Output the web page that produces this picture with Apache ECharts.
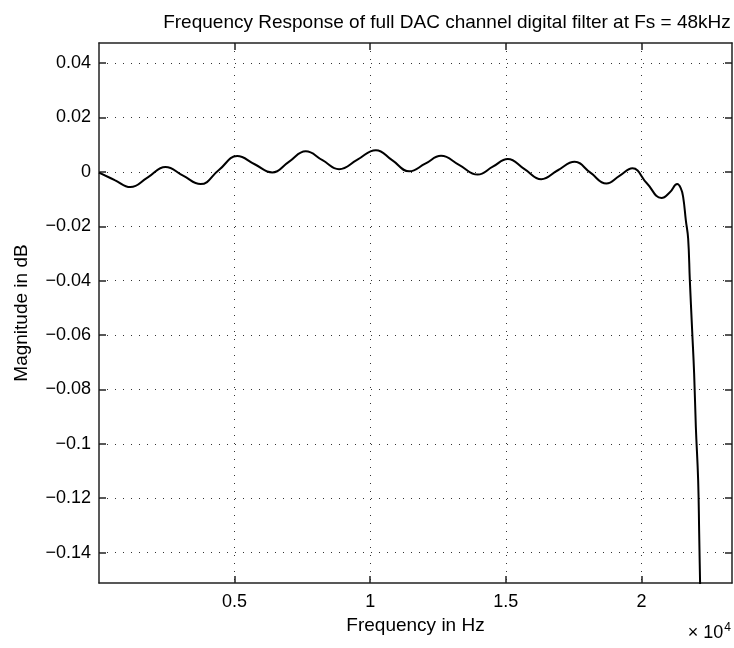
<!DOCTYPE html>
<html>
<head>
<meta charset="utf-8">
<script src="https://cdn.jsdelivr.net/npm/echarts@6/dist/echarts.min.js"></script>
<style>
  html, body { margin: 0; padding: 0; background: #fff; }
  #chart { width: 734px; height: 648px; }
</style>
</head>
<body>
<div id="chart"></div>
<script>
// frequency response (Hz, dB)
const freqHz = [
  0, 580, 1157, 1800, 2450, 3100, 3743, 4420, 5096, 5740,
  6390, 7000, 7623, 8240, 8853, 9530, 10208, 10820, 11440, 12030,
  12611, 13290, 13963, 14520, 15072, 15690, 16306, 16920, 17536, 18120,
  18707, 19190, 19668, 20200, 20740, 21050, 21320, 21450, 21538, 21638,
  21723, 21785, 21870, 21944, 22007, 22092, 22130, 22170, 22200
]
const magDb = [
  -0.0003, -0.003, -0.0056, -0.002, 0.0018, -0.0014, -0.0045, 0.0007, 0.0058, 0.0028,
  -0.0002, 0.0037, 0.0076, 0.0043, 0.001, 0.0045, 0.008, 0.0042, 0.0002, 0.003,
  0.0059, 0.0025, -0.001, 0.0019, 0.0047, 0.001, -0.0027, 0.0006, 0.0037, -0.0003,
  -0.0043, -0.0015, 0.0013, -0.0042, -0.0096, -0.0075, -0.0045, -0.006, -0.0092, -0.0178,
  -0.0245, -0.0398, -0.0582, -0.0742, -0.0938, -0.1134, -0.133, -0.155, -0.17
]

const xTicks = [5000, 10000, 15000, 20000]
const xTickLabels = ['0.5', '1', '1.5', '2']
const yTicks = [0.04, 0.02, 0, -0.02, -0.04, -0.06, -0.08, -0.1, -0.12, -0.14]
const yTickLabels = ['0.04', '0.02', '0', '\u22120.02', '\u22120.04', '\u22120.06', '\u22120.08', '\u22120.1', '\u22120.12', '\u22120.14']

const FONT = '"Liberation Sans", Arial, sans-serif'
const INK = '#222'

const pickLabel = (ticks, labels) => (v) => {
  const i = ticks.findIndex(t => Math.abs(t - v) < 1e-9)
  return i < 0 ? '' : labels[i]
}

const gridLine = {
  show: true,
  lineStyle: { color: '#333', width: 1, type: [1, 7] },
}

const baseX = {
  type: 'value',
  min: 0,
  max: 23340,
  axisLine: { show: true, onZero: false, lineStyle: { color: INK, width: 1.5 } },
  axisTick: { show: true, inside: true, length: 7, customValues: xTicks, lineStyle: { color: INK, width: 1.5 } },
}
const baseY = {
  type: 'value',
  min: -0.1512,
  max: 0.0474,
  axisLine: { show: true, onZero: false, lineStyle: { color: INK, width: 1.5 } },
  axisTick: { show: true, inside: true, length: 7, customValues: yTicks, lineStyle: { color: INK, width: 1.5 } },
}

const chart = echarts.init(document.getElementById('chart'))

const option = {
  animation: false,
  backgroundColor: '#fff',
  title: {
    text: 'Frequency Response of full DAC channel digital filter at Fs = 48kHz',
    left: 442,
    top: 8,
    textAlign: 'center',
    textStyle: { fontFamily: FONT, fontSize: 19, fontWeight: 'normal', color: '#000' },
  },
  grid: { left: 99, right: 2, top: 43, bottom: 65, containLabel: false },
  xAxis: [
    {
      ...baseX,
      position: 'bottom',
      name: 'Frequency in Hz',
      nameLocation: 'middle',
      nameGap: 29,
      nameTextStyle: { fontFamily: FONT, fontSize: 19, color: '#000' },
      splitLine: gridLine,
      axisLabel: {
        show: true,
        customValues: xTicks,
        formatter: pickLabel(xTicks, xTickLabels),
        margin: 10,
        fontFamily: FONT,
        fontSize: 18,
        color: '#000',
      },
    },
    {
      ...baseX,
      position: 'top',
      splitLine: { show: false },
      axisLabel: { show: false },
    },
  ],
  yAxis: [
    {
      ...baseY,
      position: 'left',
      name: 'Magnitude in dB',
      nameLocation: 'middle',
      nameGap: 68,
      nameRotate: 90,
      nameTextStyle: { fontFamily: FONT, fontSize: 19, color: '#000' },
      splitLine: gridLine,
      axisLabel: {
        show: true,
        customValues: yTicks,
        formatter: pickLabel(yTicks, yTickLabels),
        margin: 8,
        fontFamily: FONT,
        fontSize: 18,
        color: '#000',
      },
    },
    {
      ...baseY,
      position: 'right',
      splitLine: { show: false },
      axisLabel: { show: false },
    },
  ],
  graphic: [
    {
      type: 'text',
      right: 3,
      top: 622,
      style: {
        text: '\u00d7 10{sup|4}',
        fontFamily: FONT,
        fontSize: 18,
        fill: '#000',
        rich: {
          sup: { fontFamily: FONT, fontSize: 12, verticalAlign: 'top', padding: [0, 0, 10, 1] },
        },
      },
    },
  ],
  series: [
    {
      type: 'line',
      xAxisIndex: 0,
      yAxisIndex: 0,
      data: freqHz.map((f, i) => [f, magDb[i]]),
      showSymbol: false,
      smooth: 0.45,
      clip: true,
      lineStyle: { color: '#000', width: 2 },
    },
  ],
}

chart.setOption(option)
</script>
</body>
</html>
